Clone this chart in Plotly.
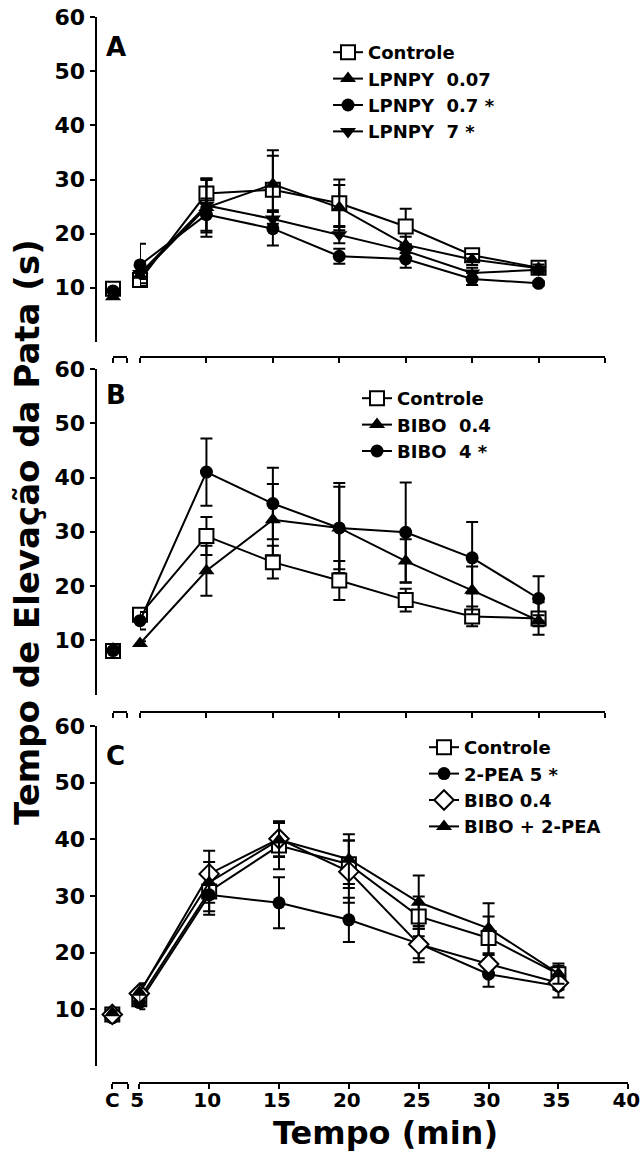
import plotly.graph_objects as go

# ---------------- data ----------------
TIMES = [5, 10, 15, 20, 25, 30, 35]
X_TICKS = [5, 10, 15, 20, 25, 30, 35, 40]
X_TICK_LABELS = ["5", "10", "15", "20", "25", "30", "35", "40"]
Y_TICKS = [10, 20, 30, 40, 50, 60]
Y_TICK_LABELS = ["10", "20", "30", "40", "50", "60"]
BASE_LABEL = "C"

# Panel A
A_NAMES = ["Controle", "LPNPY  0.07", "LPNPY  0.7 *", "LPNPY  7 *"]
A_BASE = [9.8, 8.3, 9.4, 9.0]
A_BASE_SEM = [0.6, 0.4, 0.4, 0.4]
A_CONTROLE = [11.4, 27.4, 28.1, 25.6, 21.3, 16.0, 13.7]
A_CONTROLE_SEM = [1.0, 2.5, 6.3, 4.4, 3.3, 0.8, 0.8]
A_LPNPY_007 = [12.3, 24.8, 29.1, 24.8, 17.9, 15.2, 13.6]
A_LPNPY_007_SEM = [1.5, 5.4, 6.3, 4.2, 1.5, 1.0, 0.7]
A_LPNPY_07 = [14.2, 23.5, 20.9, 15.8, 15.3, 11.6, 10.8]
A_LPNPY_07_SEM = [3.9, 3.0, 3.1, 1.4, 1.6, 1.1, 0.4]
A_LPNPY_7 = [12.6, 25.2, 22.7, 19.8, 16.8, 12.7, 13.3]
A_LPNPY_7_SEM = [1.0, 5.0, 1.6, 1.6, 1.2, 1.0, 0.6]

# Panel B
B_NAMES = ["Controle", "BIBO  0.4", "BIBO  4 *"]
B_BASE = [8.0, 8.4, 8.1]
B_BASE_SEM = [0.5, 0.5, 0.5]
B_CONTROLE = [14.7, 29.2, 24.4, 21.0, 17.4, 14.4, 14.0]
B_CONTROLE_SEM = [0.8, 3.5, 3.0, 3.6, 2.1, 1.8, 3.0]
B_BIBO_04 = [9.4, 22.8, 32.2, 30.7, 24.6, 19.2, 13.6]
B_BIBO_04_SEM = [0.4, 4.6, 6.6, 7.6, 4.0, 4.4, 1.0]
B_BIBO_4 = [13.6, 41.0, 35.2, 30.7, 29.9, 25.2, 17.7]
B_BIBO_4_SEM = [1.6, 6.2, 6.6, 8.3, 9.2, 6.6, 4.1]

# Panel C
C_NAMES = ["Controle", "2-PEA 5 *", "BIBO 0.4", "BIBO + 2-PEA"]
C_BASE = [9.1, 8.5, 9.1, 9.4]
C_BASE_SEM = [0.4, 0.4, 0.4, 0.4]
C_CONTROLE = [11.8, 30.8, 38.9, 35.6, 26.4, 22.6, 16.2]
C_CONTROLE_SEM = [1.0, 3.5, 4.2, 4.2, 3.5, 3.8, 1.5]
C_PEA_5 = [11.2, 30.2, 28.8, 25.8, 21.6, 16.2, 14.1]
C_PEA_5_SEM = [1.2, 3.5, 4.5, 3.9, 2.6, 2.2, 2.0]
C_BIBO_04 = [12.8, 33.9, 40.1, 34.3, 21.5, 18.0, 14.7]
C_BIBO_04_SEM = [1.5, 4.1, 3.1, 5.5, 3.2, 1.6, 1.2]
C_BIBO_PEA = [13.0, 32.4, 39.9, 36.5, 28.9, 24.3, 16.3]
C_BIBO_PEA_SEM = [1.6, 3.6, 3.0, 4.4, 4.7, 4.4, 1.8]

# ---------------- styles / layout geometry ----------------
W, H = 641, 1156
FONT = "DejaVu Sans"

def px(x):
    return x / W

def py(y):
    return 1 - y / H

SYM = {
    "square": dict(symbol="square", size=14, color="white", line=dict(color="black", width=2)),
    "tri_up": dict(symbol="triangle-up", size=14, color="black", line=dict(color="black", width=0)),
    "circle": dict(symbol="circle", size=13, color="black", line=dict(color="black", width=0)),
    "tri_down": dict(symbol="triangle-down", size=14, color="black", line=dict(color="black", width=0)),
    "diamond": dict(symbol="diamond", size=15, color="white", line=dict(color="black", width=2)),
}

Y_AXIS_X = 95.5
PANELS = [
    dict(ytop=17.3, ybot=341.7, xline=357.3, x5=140.0, x40=605.0, cl=113.0, cr=126.7,
         letter="A", ly=47, legend=dict(x=328, y=34), labels=False),
    dict(ytop=369.0, ybot=694.5, xline=712.0, x5=140.0, x40=605.0, cl=113.0, cr=126.7,
         letter="B", ly=395, legend=dict(x=357, y=380), labels=False),
    dict(ytop=726.0, ybot=1066.0, xline=1082.7, x5=139.3, x40=628.3, cl=112.3, cr=127.7,
         letter="C", ly=756, legend=dict(x=424, y=729), labels=True),
]

PANEL_SERIES = [
    (A_NAMES, A_BASE, A_BASE_SEM,
     [(A_CONTROLE, A_CONTROLE_SEM), (A_LPNPY_007, A_LPNPY_007_SEM),
      (A_LPNPY_07, A_LPNPY_07_SEM), (A_LPNPY_7, A_LPNPY_7_SEM)],
     ["square", "tri_up", "circle", "tri_down"]),
    (B_NAMES, B_BASE, B_BASE_SEM,
     [(B_CONTROLE, B_CONTROLE_SEM), (B_BIBO_04, B_BIBO_04_SEM), (B_BIBO_4, B_BIBO_4_SEM)],
     ["square", "tri_up", "circle"]),
    (C_NAMES, C_BASE, C_BASE_SEM,
     [(C_CONTROLE, C_CONTROLE_SEM), (C_PEA_5, C_PEA_5_SEM),
      (C_BIBO_04, C_BIBO_04_SEM), (C_BIBO_PEA, C_BIBO_PEA_SEM)],
     ["square", "circle", "diamond", "tri_up"]),
]

fig = go.Figure()
ytickfont = dict(family=FONT, size=22, color="black", weight="bold")
xtickfont = dict(family=FONT, size=20, color="black", weight="bold")
axis_common = dict(showgrid=False, zeroline=False, showline=True, linecolor="black",
                   linewidth=2, ticks="outside", ticklen=5, tickwidth=2, tickcolor="black",
                   fixedrange=True, ticklabeloverflow="allow", automargin=False)

layout = dict(width=W, height=H, margin=dict(l=0, r=0, t=0, b=0, autoexpand=False),
              paper_bgcolor="white", plot_bgcolor="rgba(0,0,0,0)",
              showlegend=True, annotations=[])

for i, (geo, (names, base, base_sem, series, syms)) in enumerate(zip(PANELS, PANEL_SERIES)):
    yname = "yaxis" if i == 0 else f"yaxis{i + 1}"
    yref = "y" if i == 0 else f"y{i + 1}"
    xm_idx = 2 * i + 1
    xc_idx = 2 * i + 2
    xm_name = "xaxis" if xm_idx == 1 else f"xaxis{xm_idx}"
    xm_ref = "x" if xm_idx == 1 else f"x{xm_idx}"
    xc_name = f"xaxis{xc_idx}"
    xc_ref = f"x{xc_idx}"
    leg_name = "legend" if i == 0 else f"legend{i + 1}"

    layout[yname] = dict(axis_common, domain=[py(geo["ybot"]), py(geo["ytop"])],
                         range=[0, 60], anchor="free", position=px(Y_AXIS_X),
                         tickvals=Y_TICKS, ticktext=Y_TICK_LABELS, tickfont=ytickfont)
    layout[xm_name] = dict(axis_common, domain=[px(geo["x5"]), px(geo["x40"])],
                           range=[5, 40], anchor="free", position=py(geo["xline"]),
                           tickvals=X_TICKS, ticktext=X_TICK_LABELS, tickfont=xtickfont,
                           showticklabels=geo["labels"], ticklabelstandoff=-6,
                           ticklabelshift=-2)
    layout[xc_name] = dict(axis_common, domain=[px(geo["cl"]), px(geo["cr"])],
                           range=[0, 1], anchor="free", position=py(geo["xline"]),
                           tickvals=[0, 1], ticktext=[BASE_LABEL, ""], tickfont=xtickfont,
                           showticklabels=geo["labels"], ticklabelstandoff=-6)
    layout[leg_name] = dict(x=px(geo["legend"]["x"]), y=py(geo["legend"]["y"]),
                            xanchor="left", yanchor="top", bgcolor="rgba(0,0,0,0)",
                            borderwidth=0, tracegroupgap=0,
                            font=dict(family=FONT, size=18, color="black", weight="bold"))

    for name, b, bs, (vals, sems), s in zip(names, base, base_sem, series, syms):
        mk = SYM[s]
        fig.add_trace(go.Scatter(
            x=TIMES, y=vals, name=name, mode="lines+markers",
            xaxis=xm_ref, yaxis=yref, legend=leg_name, cliponaxis=False,
            line=dict(color="black", width=2),
            marker=mk,
            error_y=dict(type="data", array=sems, visible=True, color="black",
                         thickness=2, width=6),
            hoverinfo="skip"))
        fig.add_trace(go.Scatter(
            x=[0], y=[b], name=name, mode="markers", showlegend=False,
            xaxis=xc_ref, yaxis=yref, cliponaxis=False,
            marker=mk,
            error_y=dict(type="data", array=[bs], visible=True, color="black",
                         thickness=2, width=6),
            hoverinfo="skip"))

    layout["annotations"].append(dict(
        text=geo["letter"], x=px(104), y=py(geo["ly"]), xref="paper", yref="paper",
        xanchor="left", yanchor="middle", showarrow=False,
        font=dict(family=FONT, size=26, color="black", weight="bold")))

layout["annotations"].append(dict(
    text="Tempo de Elevação da Pata (s)", x=px(27), y=py(532), xref="paper", yref="paper",
    xanchor="center", yanchor="middle", textangle=-90, showarrow=False,
    font=dict(family=FONT, size=34, color="black", weight="bold")))
layout["annotations"].append(dict(
    text="Tempo (min)", x=px(385), y=py(1133), xref="paper", yref="paper",
    xanchor="center", yanchor="middle", showarrow=False,
    font=dict(family=FONT, size=32, color="black", weight="bold")))

fig.update_layout(**layout)
fig.write_html("out.html", config={"displayModeBar": False},
               post_script="document.documentElement.style.overflow='hidden';"
                           "document.body.style.overflow='hidden';"
                           "document.body.style.margin='0';")
